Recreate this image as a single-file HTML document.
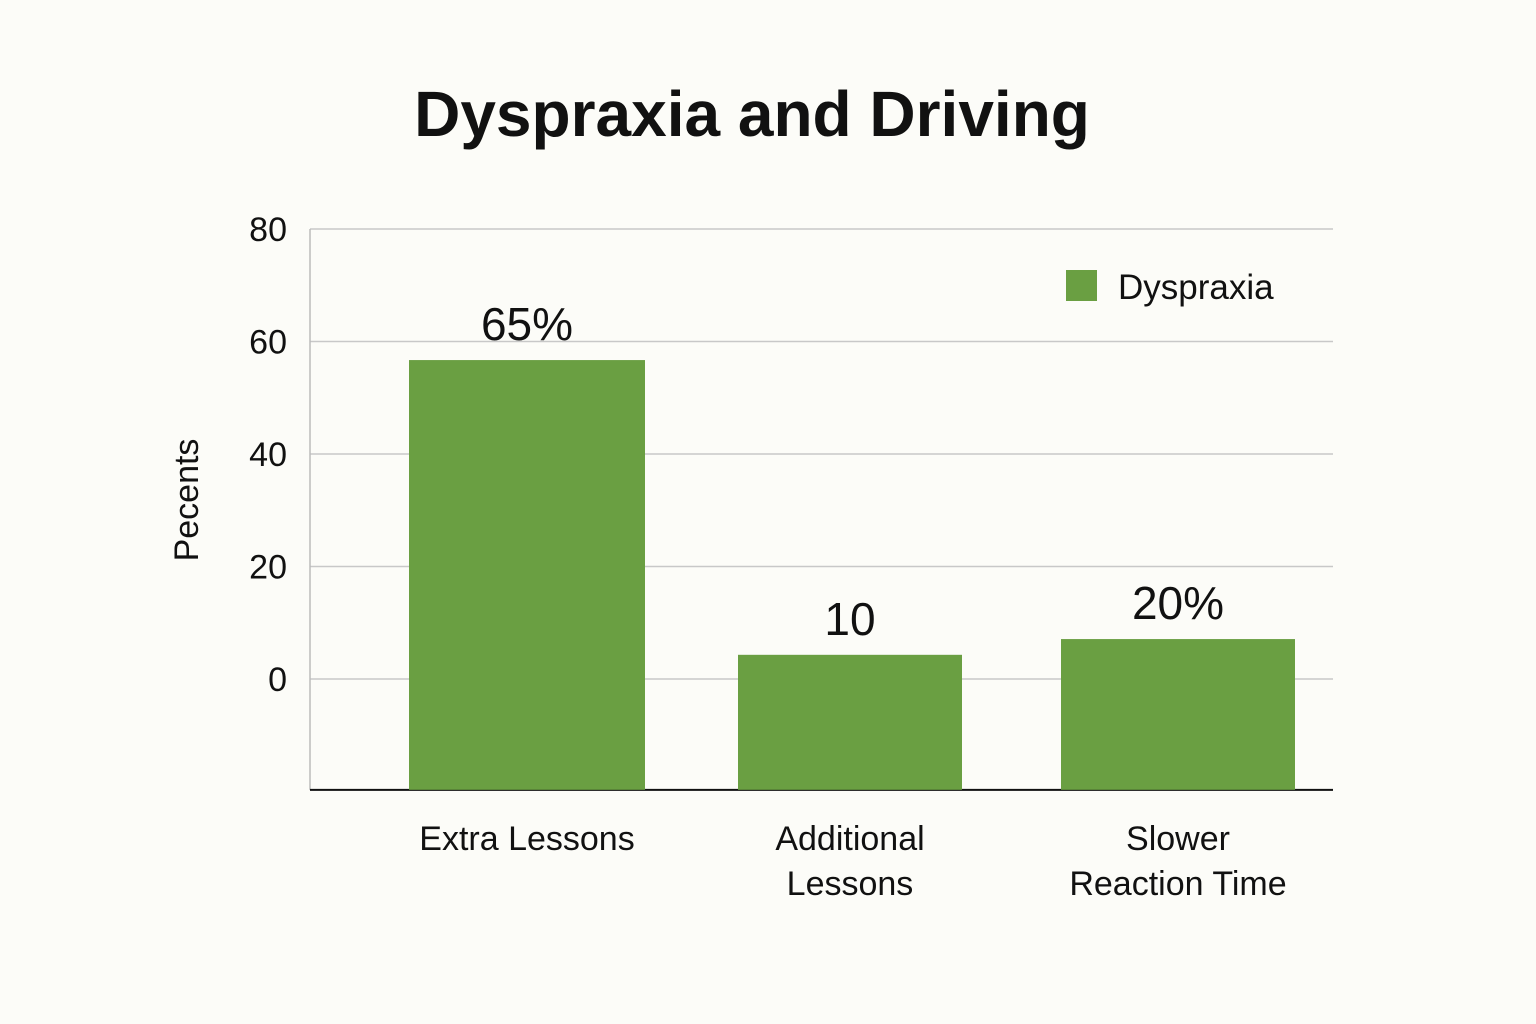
<!DOCTYPE html>
<html><head><meta charset="utf-8"><style>
html,body{margin:0;padding:0;background:#fcfcf8;}
svg{display:block;font-family:"Liberation Sans",sans-serif;}
</style></head><body>
<svg width="1536" height="1024" viewBox="0 0 1536 1024">
<rect x="0" y="0" width="1536" height="1024" fill="#fcfcf8"/>
<text x="752" y="136" text-anchor="middle" font-size="64" font-weight="bold" fill="#111">Dyspraxia and Driving</text>
<text transform="translate(198,500) rotate(-90)" text-anchor="middle" font-size="34" fill="#111">Pecents</text>
<g id="grid"></g><g id="bars"></g><g id="labels"></g>
<rect x="1066" y="270" width="31" height="31" fill="#6a9f42"/>
<text x="1118" y="299" font-size="35" fill="#111">Dyspraxia</text>
</svg>
<script>
const categories=[["Extra Lessons"],["Additional","Lessons"],["Slower","Reaction Time"]];
const values=[56.7,4.3,7.1];
const valueLabels=["65%","10","20%"];
const yTicks=[0,20,40,60,80];
const yMin=-19.7;
const ns="http://www.w3.org/2000/svg";
const svg=document.querySelector("svg");
const x0=310,x1=1333;
function y(v){return 679-(v)*(450/80);}
const bandX=[409,738,1061],bandW=[236,224,234];
function el(t,a,p){const e=document.createElementNS(ns,t);for(const k in a)e.setAttribute(k,a[k]);p.appendChild(e);return e;}
const grid=document.getElementById("grid"),bars=document.getElementById("bars"),labels=document.getElementById("labels");
yTicks.forEach(t=>{
const l=el("line",{x1:x0,x2:x1,y1:y(t),y2:y(t),stroke:"#c8c8c8","stroke-width":1.5},grid);


const tx=el("text",{x:287,y:y(t)+12,"text-anchor":"end","font-size":34,fill:"#111"},grid);
tx.textContent=t;


});
const ax=el("line",{x1:x0,x2:x0,y1:y(80),y2:y(yMin),stroke:"#bbb","stroke-width":1.5},grid);


values.forEach((v,i)=>{
const top=y(v),base=y(yMin);
const r=el("rect",{x:bandX[i],y:top,width:bandW[i],height:base-top,fill:"#6a9f42"},bars);


const cx=bandX[i]+bandW[i]/2;
const vl=el("text",{x:cx,y:top-20,"text-anchor":"middle","font-size":46,fill:"#111"},labels);
vl.textContent=valueLabels[i];


categories[i].forEach((ln,j)=>{
const c=el("text",{x:cx,y:850+j*45,"text-anchor":"middle","font-size":34,fill:"#111"},labels);
c.textContent=ln;


});
});
const b=el("line",{x1:x0,x2:x1,y1:y(yMin),y2:y(yMin),stroke:"#111","stroke-width":2},grid);


</script>
</body></html>
